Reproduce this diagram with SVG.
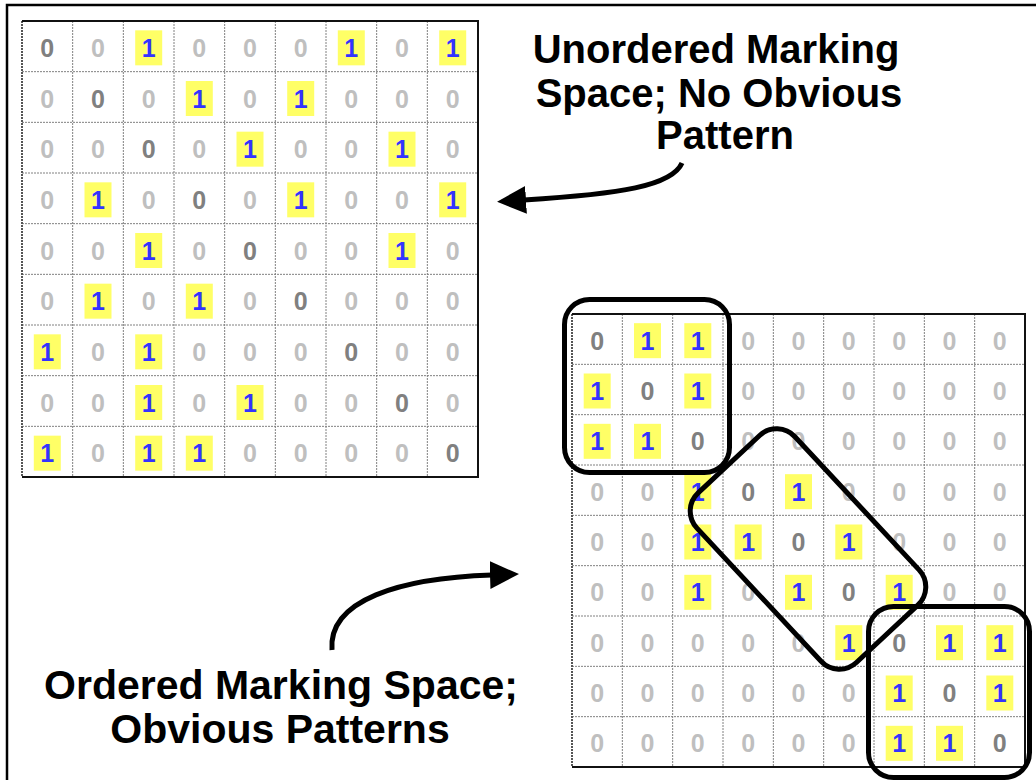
<svg xmlns="http://www.w3.org/2000/svg" width="1036" height="780" viewBox="0 0 1036 780">
<style>
.n{font-family:"Liberation Sans",Arial,sans-serif;font-weight:bold;font-size:25px;text-anchor:middle}
.z{fill:#bfbfbf}.d{fill:#808080}.o{fill:#3333ff}
.hl{fill:#ffff66}
.gl{stroke:#808080;stroke-width:1;stroke-dasharray:2 1;fill:none}
.gb{stroke:#111;stroke-width:2;fill:none}
.gbl{stroke:#555;stroke-width:2;stroke-dasharray:2 1;fill:none}
.lbl{font-family:"Liberation Sans",Arial,sans-serif;font-weight:bold;text-anchor:middle;fill:#000}
.top{font-size:40px}
.bot{font-size:41px}
.ring{fill:none;stroke:#000;stroke-width:5}
.arr{fill:none;stroke:#000;stroke-width:5}
</style>
<defs>
<marker id="ah" markerUnits="userSpaceOnUse" markerWidth="32" markerHeight="30" refX="2" refY="14" orient="auto">
<path d="M0,0 L29,14 L0,28 z" fill="#000"/>
</marker>
</defs>
<rect x="7" y="5" width="1045" height="800" fill="none" stroke="#000" stroke-width="2.5"/>

<g id="grid-unordered" transform="translate(22,21)">
<path class="gl" d="M50.67,0V456M101.33,0V456M152,0V456M202.67,0V456M253.33,0V456M304,0V456M354.67,0V456M405.33,0V456M0,50.67H456M0,101.33H456M0,152H456M0,202.67H456M0,253.33H456M0,304H456M0,354.67H456M0,405.33H456"/>
<path class="gbl" d="M0,0V456"/>
<path class="gb" d="M0,0H456V456H0"/>
<g transform="translate(0,25.33)">
<text class="n d" x="25.3" y="10.5">0</text><text class="n z" x="76" y="10.5">0</text><rect class="hl" x="113.2" y="-16" width="27" height="35"/><text class="n o" x="126.7" y="10.5">1</text><text class="n z" x="177.3" y="10.5">0</text><text class="n z" x="228" y="10.5">0</text><text class="n z" x="278.7" y="10.5">0</text><rect class="hl" x="315.8" y="-16" width="27" height="35"/><text class="n o" x="329.3" y="10.5">1</text><text class="n z" x="380" y="10.5">0</text><rect class="hl" x="417.2" y="-16" width="27" height="35"/><text class="n o" x="430.7" y="10.5">1</text>
</g>
<g transform="translate(0,76)">
<text class="n z" x="25.3" y="10.5">0</text><text class="n d" x="76" y="10.5">0</text><text class="n z" x="126.7" y="10.5">0</text><rect class="hl" x="163.8" y="-16" width="27" height="35"/><text class="n o" x="177.3" y="10.5">1</text><text class="n z" x="228" y="10.5">0</text><rect class="hl" x="265.2" y="-16" width="27" height="35"/><text class="n o" x="278.7" y="10.5">1</text><text class="n z" x="329.3" y="10.5">0</text><text class="n z" x="380" y="10.5">0</text><text class="n z" x="430.7" y="10.5">0</text>
</g>
<g transform="translate(0,126.67)">
<text class="n z" x="25.3" y="10.5">0</text><text class="n z" x="76" y="10.5">0</text><text class="n d" x="126.7" y="10.5">0</text><text class="n z" x="177.3" y="10.5">0</text><rect class="hl" x="214.5" y="-16" width="27" height="35"/><text class="n o" x="228" y="10.5">1</text><text class="n z" x="278.7" y="10.5">0</text><text class="n z" x="329.3" y="10.5">0</text><rect class="hl" x="366.5" y="-16" width="27" height="35"/><text class="n o" x="380" y="10.5">1</text><text class="n z" x="430.7" y="10.5">0</text>
</g>
<g transform="translate(0,177.33)">
<text class="n z" x="25.3" y="10.5">0</text><rect class="hl" x="62.5" y="-16" width="27" height="35"/><text class="n o" x="76" y="10.5">1</text><text class="n z" x="126.7" y="10.5">0</text><text class="n d" x="177.3" y="10.5">0</text><text class="n z" x="228" y="10.5">0</text><rect class="hl" x="265.2" y="-16" width="27" height="35"/><text class="n o" x="278.7" y="10.5">1</text><text class="n z" x="329.3" y="10.5">0</text><text class="n z" x="380" y="10.5">0</text><rect class="hl" x="417.2" y="-16" width="27" height="35"/><text class="n o" x="430.7" y="10.5">1</text>
</g>
<g transform="translate(0,228)">
<text class="n z" x="25.3" y="10.5">0</text><text class="n z" x="76" y="10.5">0</text><rect class="hl" x="113.2" y="-16" width="27" height="35"/><text class="n o" x="126.7" y="10.5">1</text><text class="n z" x="177.3" y="10.5">0</text><text class="n d" x="228" y="10.5">0</text><text class="n z" x="278.7" y="10.5">0</text><text class="n z" x="329.3" y="10.5">0</text><rect class="hl" x="366.5" y="-16" width="27" height="35"/><text class="n o" x="380" y="10.5">1</text><text class="n z" x="430.7" y="10.5">0</text>
</g>
<g transform="translate(0,278.67)">
<text class="n z" x="25.3" y="10.5">0</text><rect class="hl" x="62.5" y="-16" width="27" height="35"/><text class="n o" x="76" y="10.5">1</text><text class="n z" x="126.7" y="10.5">0</text><rect class="hl" x="163.8" y="-16" width="27" height="35"/><text class="n o" x="177.3" y="10.5">1</text><text class="n z" x="228" y="10.5">0</text><text class="n d" x="278.7" y="10.5">0</text><text class="n z" x="329.3" y="10.5">0</text><text class="n z" x="380" y="10.5">0</text><text class="n z" x="430.7" y="10.5">0</text>
</g>
<g transform="translate(0,329.33)">
<rect class="hl" x="11.8" y="-16" width="27" height="35"/><text class="n o" x="25.3" y="10.5">1</text><text class="n z" x="76" y="10.5">0</text><rect class="hl" x="113.2" y="-16" width="27" height="35"/><text class="n o" x="126.7" y="10.5">1</text><text class="n z" x="177.3" y="10.5">0</text><text class="n z" x="228" y="10.5">0</text><text class="n z" x="278.7" y="10.5">0</text><text class="n d" x="329.3" y="10.5">0</text><text class="n z" x="380" y="10.5">0</text><text class="n z" x="430.7" y="10.5">0</text>
</g>
<g transform="translate(0,380)">
<text class="n z" x="25.3" y="10.5">0</text><text class="n z" x="76" y="10.5">0</text><rect class="hl" x="113.2" y="-16" width="27" height="35"/><text class="n o" x="126.7" y="10.5">1</text><text class="n z" x="177.3" y="10.5">0</text><rect class="hl" x="214.5" y="-16" width="27" height="35"/><text class="n o" x="228" y="10.5">1</text><text class="n z" x="278.7" y="10.5">0</text><text class="n z" x="329.3" y="10.5">0</text><text class="n d" x="380" y="10.5">0</text><text class="n z" x="430.7" y="10.5">0</text>
</g>
<g transform="translate(0,430.67)">
<rect class="hl" x="11.8" y="-16" width="27" height="35"/><text class="n o" x="25.3" y="10.5">1</text><text class="n z" x="76" y="10.5">0</text><rect class="hl" x="113.2" y="-16" width="27" height="35"/><text class="n o" x="126.7" y="10.5">1</text><rect class="hl" x="163.8" y="-16" width="27" height="35"/><text class="n o" x="177.3" y="10.5">1</text><text class="n z" x="228" y="10.5">0</text><text class="n z" x="278.7" y="10.5">0</text><text class="n z" x="329.3" y="10.5">0</text><text class="n z" x="380" y="10.5">0</text><text class="n d" x="430.7" y="10.5">0</text>
</g>
</g>

<g id="grid-ordered" transform="translate(572,314)">
<path class="gl" d="M50.33,0V453M100.67,0V453M151,0V453M201.33,0V453M251.67,0V453M302,0V453M352.33,0V453M402.67,0V453M0,50.33H453M0,100.67H453M0,151H453M0,201.33H453M0,251.67H453M0,302H453M0,352.33H453M0,402.67H453"/>
<path class="gbl" d="M0,0V453"/>
<path class="gb" d="M0,0H453V453H0"/>
<g transform="translate(0,25.17)">
<text class="n d" x="25.2" y="10.5">0</text><rect class="hl" x="62" y="-16" width="27" height="35"/><text class="n o" x="75.5" y="10.5">1</text><rect class="hl" x="112.3" y="-16" width="27" height="35"/><text class="n o" x="125.8" y="10.5">1</text><text class="n z" x="176.2" y="10.5">0</text><text class="n z" x="226.5" y="10.5">0</text><text class="n z" x="276.8" y="10.5">0</text><text class="n z" x="327.2" y="10.5">0</text><text class="n z" x="377.5" y="10.5">0</text><text class="n z" x="427.8" y="10.5">0</text>
</g>
<g transform="translate(0,75.5)">
<rect class="hl" x="11.7" y="-16" width="27" height="35"/><text class="n o" x="25.2" y="10.5">1</text><text class="n d" x="75.5" y="10.5">0</text><rect class="hl" x="112.3" y="-16" width="27" height="35"/><text class="n o" x="125.8" y="10.5">1</text><text class="n z" x="176.2" y="10.5">0</text><text class="n z" x="226.5" y="10.5">0</text><text class="n z" x="276.8" y="10.5">0</text><text class="n z" x="327.2" y="10.5">0</text><text class="n z" x="377.5" y="10.5">0</text><text class="n z" x="427.8" y="10.5">0</text>
</g>
<g transform="translate(0,125.83)">
<rect class="hl" x="11.7" y="-16" width="27" height="35"/><text class="n o" x="25.2" y="10.5">1</text><rect class="hl" x="62" y="-16" width="27" height="35"/><text class="n o" x="75.5" y="10.5">1</text><text class="n d" x="125.8" y="10.5">0</text><text class="n z" x="176.2" y="10.5">0</text><text class="n z" x="226.5" y="10.5">0</text><text class="n z" x="276.8" y="10.5">0</text><text class="n z" x="327.2" y="10.5">0</text><text class="n z" x="377.5" y="10.5">0</text><text class="n z" x="427.8" y="10.5">0</text>
</g>
<g transform="translate(0,176.17)">
<text class="n z" x="25.2" y="10.5">0</text><text class="n z" x="75.5" y="10.5">0</text><rect class="hl" x="112.3" y="-16" width="27" height="35"/><text class="n o" x="125.8" y="10.5">1</text><text class="n d" x="176.2" y="10.5">0</text><rect class="hl" x="213" y="-16" width="27" height="35"/><text class="n o" x="226.5" y="10.5">1</text><text class="n z" x="276.8" y="10.5">0</text><text class="n z" x="327.2" y="10.5">0</text><text class="n z" x="377.5" y="10.5">0</text><text class="n z" x="427.8" y="10.5">0</text>
</g>
<g transform="translate(0,226.5)">
<text class="n z" x="25.2" y="10.5">0</text><text class="n z" x="75.5" y="10.5">0</text><rect class="hl" x="112.3" y="-16" width="27" height="35"/><text class="n o" x="125.8" y="10.5">1</text><rect class="hl" x="162.7" y="-16" width="27" height="35"/><text class="n o" x="176.2" y="10.5">1</text><text class="n d" x="226.5" y="10.5">0</text><rect class="hl" x="263.3" y="-16" width="27" height="35"/><text class="n o" x="276.8" y="10.5">1</text><text class="n z" x="327.2" y="10.5">0</text><text class="n z" x="377.5" y="10.5">0</text><text class="n z" x="427.8" y="10.5">0</text>
</g>
<g transform="translate(0,276.83)">
<text class="n z" x="25.2" y="10.5">0</text><text class="n z" x="75.5" y="10.5">0</text><rect class="hl" x="112.3" y="-16" width="27" height="35"/><text class="n o" x="125.8" y="10.5">1</text><text class="n z" x="176.2" y="10.5">0</text><rect class="hl" x="213" y="-16" width="27" height="35"/><text class="n o" x="226.5" y="10.5">1</text><text class="n d" x="276.8" y="10.5">0</text><rect class="hl" x="313.7" y="-16" width="27" height="35"/><text class="n o" x="327.2" y="10.5">1</text><text class="n z" x="377.5" y="10.5">0</text><text class="n z" x="427.8" y="10.5">0</text>
</g>
<g transform="translate(0,327.17)">
<text class="n z" x="25.2" y="10.5">0</text><text class="n z" x="75.5" y="10.5">0</text><text class="n z" x="125.8" y="10.5">0</text><text class="n z" x="176.2" y="10.5">0</text><text class="n z" x="226.5" y="10.5">0</text><rect class="hl" x="263.3" y="-16" width="27" height="35"/><text class="n o" x="276.8" y="10.5">1</text><text class="n d" x="327.2" y="10.5">0</text><rect class="hl" x="364" y="-16" width="27" height="35"/><text class="n o" x="377.5" y="10.5">1</text><rect class="hl" x="414.3" y="-16" width="27" height="35"/><text class="n o" x="427.8" y="10.5">1</text>
</g>
<g transform="translate(0,377.5)">
<text class="n z" x="25.2" y="10.5">0</text><text class="n z" x="75.5" y="10.5">0</text><text class="n z" x="125.8" y="10.5">0</text><text class="n z" x="176.2" y="10.5">0</text><text class="n z" x="226.5" y="10.5">0</text><text class="n z" x="276.8" y="10.5">0</text><rect class="hl" x="313.7" y="-16" width="27" height="35"/><text class="n o" x="327.2" y="10.5">1</text><text class="n d" x="377.5" y="10.5">0</text><rect class="hl" x="414.3" y="-16" width="27" height="35"/><text class="n o" x="427.8" y="10.5">1</text>
</g>
<g transform="translate(0,427.83)">
<text class="n z" x="25.2" y="10.5">0</text><text class="n z" x="75.5" y="10.5">0</text><text class="n z" x="125.8" y="10.5">0</text><text class="n z" x="176.2" y="10.5">0</text><text class="n z" x="226.5" y="10.5">0</text><text class="n z" x="276.8" y="10.5">0</text><rect class="hl" x="313.7" y="-16" width="27" height="35"/><text class="n o" x="327.2" y="10.5">1</text><rect class="hl" x="364" y="-16" width="27" height="35"/><text class="n o" x="377.5" y="10.5">1</text><text class="n d" x="427.8" y="10.5">0</text>
</g>
</g>

<g id="pattern-rings">
<rect id="ring-top" class="ring" x="564.5" y="299.5" width="165" height="173" rx="25"/>
<rect id="ring-diagonal" class="ring" x="-116" y="-67" width="232" height="134" rx="25" transform="translate(808 549) rotate(47)"/>
<rect id="ring-bottom" class="ring" x="868.5" y="606.5" width="161" height="171" rx="25"/>
</g>

<g id="label-unordered">
<text class="lbl top" x="716" y="63">Unordered Marking</text>
<text class="lbl top" x="719" y="107">Space; No Obvious</text>
<text class="lbl top" x="725" y="149">Pattern</text>
</g>

<g id="label-ordered">
<text class="lbl bot" x="281" y="699">Ordered Marking Space;</text>
<text class="lbl bot" x="280" y="743">Obvious Patterns</text>
</g>

<g id="connectors">
<path class="arr" d="M682,163 C672,186 620,194 524,200" marker-end="url(#ah)"/>
<path class="arr" d="M332,650 C328,600 400,578 492,575" marker-end="url(#ah)"/>
</g>
</svg>
